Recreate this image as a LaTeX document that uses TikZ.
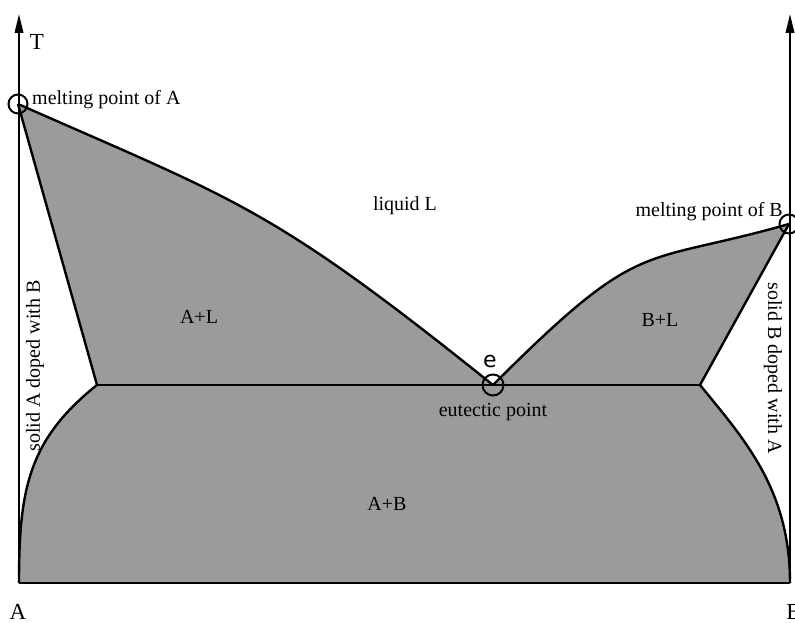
\documentclass[tikz,border=0pt]{standalone}
\usepackage{fontspec}
\setmainfont{Liberation Serif}
\newfontfamily\labelsans{DejaVu Sans}
\usetikzlibrary{arrows.meta}
\definecolor{phasegray}{RGB}{155,155,155}
\begin{document}
\begin{tikzpicture}[x=1pt,y=-1pt,
  curve/.style={line width=2.4pt},
  axis/.style={line width=2pt,-{Triangle[length=19pt,width=8.5pt]}},
  point/.style={circle,draw,line width=2pt,minimum size=19pt,inner sep=0pt},
  lbl/.style={font=\fontsize{20}{24}\selectfont,inner sep=0pt},
  big/.style={font=\fontsize{23}{26}\selectfont,inner sep=0pt}]
\useasboundingbox (0,0) rectangle (795,623);

% corners of the diagram and ends of the eutectic line
\coordinate (A0) at (19,583);
\coordinate (B0) at (790,583);
\coordinate (Atop) at (19,14);
\coordinate (Btop) at (790,14);
\coordinate (sA) at (97,385);
\coordinate (sB) at (700,385);

% special points (outlines drawn at the end, above the fill)
\path (18,104) coordinate (mA) (789,224) coordinate (mB) (493,385) coordinate (eu);

% two-phase regions
\fill[phasegray] (mA) .. controls (240,202) and (271,207) .. (eu)
  .. controls (643,235) and (638,267) .. (mB) -- (sB)
  .. controls (745,440) and (790,490) .. (B0) -- (A0)
  .. controls (19,490) and (28,440) .. (sA) -- cycle;

% liquidus, solidus and solvus lines
\draw[curve] (mA) .. controls (240,202) and (271,207) .. (eu);
\draw[curve] (eu) .. controls (643,235) and (638,267) .. (mB);
\draw[curve] (mA) -- (sA);
\draw[curve] (mB) -- (sB);
\draw[curve] (sA) -- (sB);
\draw[curve] (sA) .. controls (28,440) and (19,490) .. (A0);
\draw[curve] (sB) .. controls (745,440) and (790,490) .. (B0);
\draw[curve] (A0) -- (B0);

% temperature axes
\draw[axis] (A0) -- (Atop);
\draw[axis] (B0) -- (Btop);

% circles marking the melting points and the eutectic point
\node[point] (cA) at (mA) {};
\node[point] (cB) at (mB) {};
\node[point,minimum size=21pt] (ce) at (eu) {};

% labels
\node[big] (T) at (37,42) {T};
\node[lbl,anchor=base west] (lmA) at (32,105) {melting point of A};
\node[lbl,anchor=base east] (lmB) at (783,216) {melting point of B};
\node[lbl] (liq) at (405,206) {liquid L};
\node[lbl] (AL) at (199,317) {A+L};
\node[lbl] (BL) at (660,320) {B+L};
\node[font=\labelsans\fontsize{22}{26}\selectfont,inner sep=0pt] (elbl) at (490,361) {e};
\node[lbl] (eut) at (493,412) {eutectic point};
\node[lbl] (AB) at (387,504) {A+B};
\node[lbl,rotate=90] (solA) at (35,366) {solid A doped with B};
\node[lbl,rotate=-90] (solB) at (773,368) {solid B doped with A};
\node[big] (Alab) at (18,612) {A};
\node[big] (Blab) at (794,612) {B};
\end{tikzpicture}
\end{document}
